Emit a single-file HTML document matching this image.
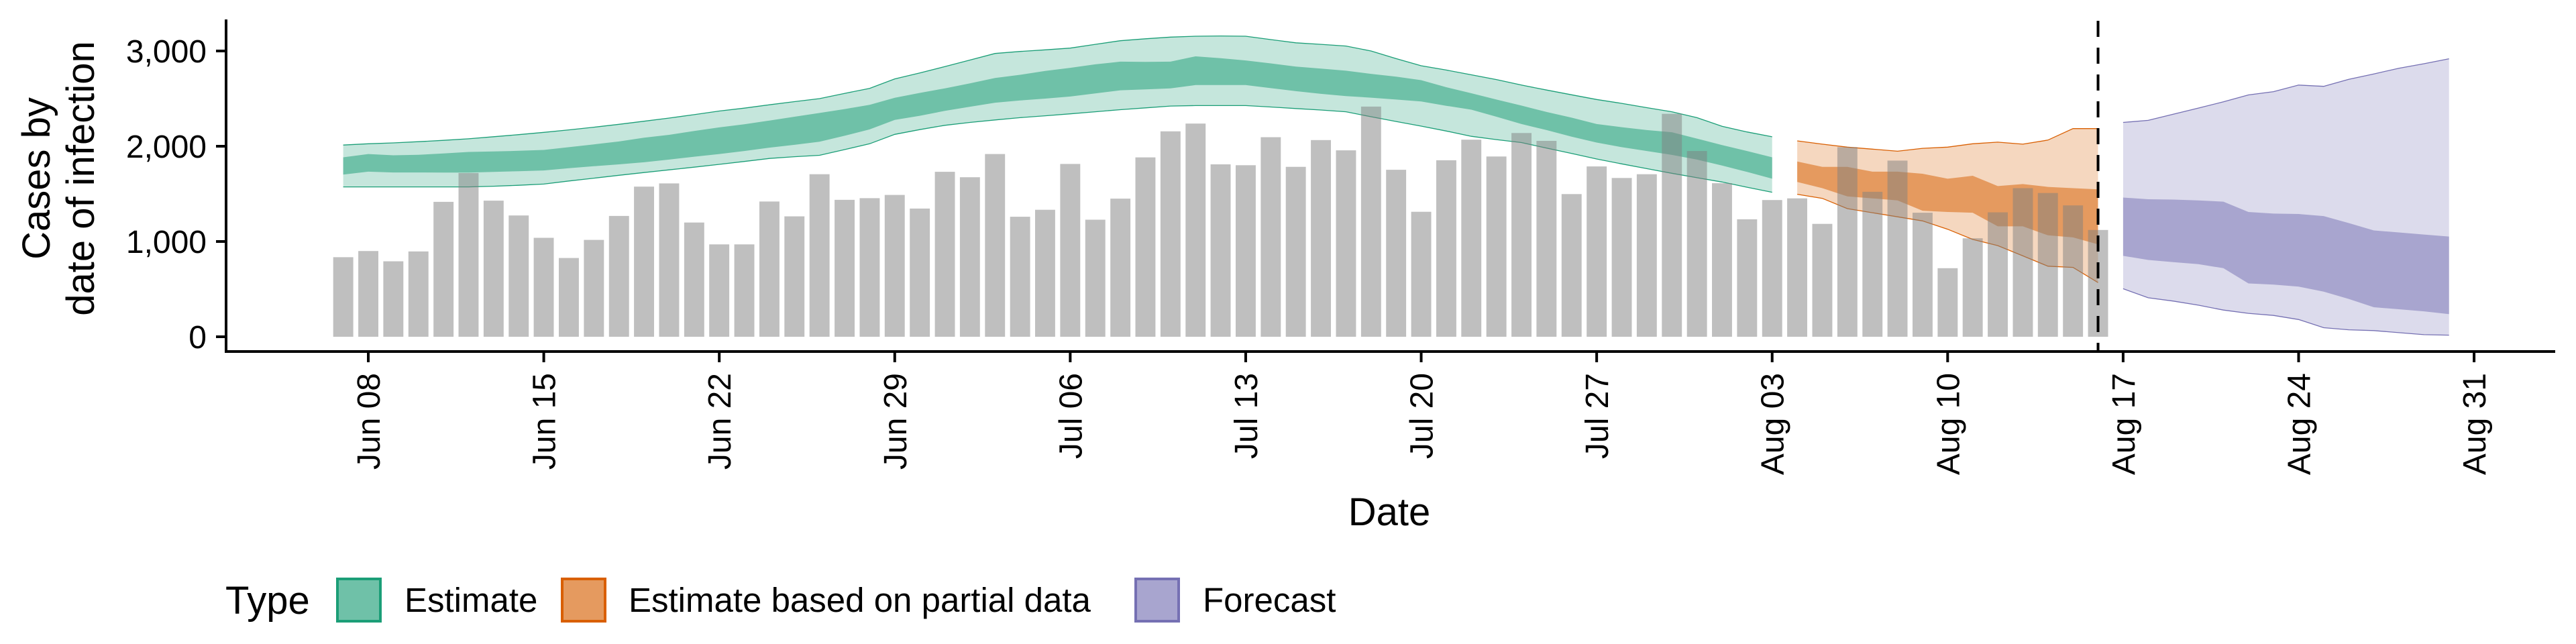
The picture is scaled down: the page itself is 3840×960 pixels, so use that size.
<!DOCTYPE html>
<html><head><meta charset="utf-8"><style>
html,body{margin:0;padding:0;background:#fff;}
svg{display:block;font-family:"Liberation Sans",sans-serif;}
</style></head><body>
<svg id="chart" width="3840" height="960" viewBox="0 0 3840 960" xmlns="http://www.w3.org/2000/svg">
<g id="ribbons"></g>
<g id="bars"></g>
<g id="axes"></g>
</svg>
<script>
// ---- data ----
const barStart = "2020-06-07";
const barValues = [835,900,792,896,1416,1719,1429,1273,1039,827,1017,1268,1576,1610,1199,970,970,1420,1264,1706,1437,1455,1489,1346,
1732,1675,1918,1260,1333,1814,1229,1450,1883,2156,2238,1810,1801,2095,1784,2065,1957,2416,1753,1312,1853,2069,1892,2139,2056,1498,1788,1667,1706,2340,1950,
1612,1233,1435,1453,1185,1991,1522,1849,1302,720,1034,1306,1560,1509,1379,1121];

const estStart = "2020-06-07";
const estU90 = [2013,2026,2035,2048,2062,2078,2100,2122,2146,2172,2200,2230,2263,2296,2332,2370,2400,2435,2468,2500,2555,2608,2707,2770,
2836,2905,2974,2995,3012,3030,3070,3108,3128,3146,3155,3158,3155,3120,3086,3070,3052,3000,2920,2845,2800,2750,2700,2642,2590,2540,2491,2450,2405,2362,2300,2210,2150,2099];
const estU50 = [1884,1918,1905,1910,1925,1940,1945,1952,1961,1990,2020,2050,2090,2120,2160,2198,2230,2270,2310,2349,2390,2435,2509,2560,
2608,2660,2716,2750,2790,2823,2860,2888,2885,2888,2944,2925,2901,2870,2836,2815,2793,2760,2730,2694,2620,2556,2490,2427,2360,2300,2233,2200,2170,2147,2080,2013,1950,1884];
const estL50 = [1703,1733,1725,1725,1724,1724,1730,1738,1746,1770,1790,1810,1832,1860,1890,1918,1950,1985,2015,2047,2110,2177,2276,2320,
2371,2415,2457,2480,2500,2522,2555,2587,2597,2607,2642,2642,2642,2610,2578,2550,2526,2510,2490,2470,2425,2384,2310,2233,2170,2100,2039,1990,1950,1909,1860,1797,1730,1659];
const estL90 = [1573,1573,1573,1573,1573,1573,1580,1590,1603,1635,1665,1695,1724,1752,1780,1810,1840,1872,1890,1905,1965,2026,2125,2175,
2220,2250,2276,2300,2320,2340,2362,2384,2403,2422,2427,2427,2427,2412,2396,2380,2362,2310,2260,2211,2160,2104,2070,2039,1980,1925,1866,1815,1765,1716,1670,1625,1570,1517];

const partStart = "2020-08-04";
const partU90 = [2056,2022,1991,1970,1948,1978,1991,2026,2043,2022,2065,2185,2185];
const partU50 = [1840,1784,1784,1733,1733,1711,1659,1690,1582,1603,1573,1560,1547];
const partL50 = [1625,1560,1474,1453,1431,1323,1310,1302,1159,1159,1065,1043,970];
const partL90 = [1496,1453,1345,1302,1259,1216,1129,1022,957,849,741,728,569];

const fcStart = "2020-08-17";
const fcU90 = [2250,2272,2336,2401,2466,2539,2573,2642,2629,2703,2759,2819,2866,2918];
const fcU50 = [1461,1444,1440,1431,1418,1310,1293,1289,1267,1194,1116,1095,1073,1052];
const fcL50 = [849,806,784,763,720,560,547,526,474,397,310,289,267,237];
const fcL90 = [504,409,375,332,280,246,224,181,95,73,65,43,22,17];

const yTicks = [0,1000,2000,3000];
const yTickLabels = ["0","1,000","2,000","3,000"];
const xTickDates = ["2020-06-08","2020-06-15","2020-06-22","2020-06-29","2020-07-06","2020-07-13","2020-07-20","2020-07-27","2020-08-03","2020-08-10","2020-08-17","2020-08-24","2020-08-31"];
const xTickLabels = ["Jun 08","Jun 15","Jun 22","Jun 29","Jul 06","Jul 13","Jul 20","Jul 27","Aug 03","Aug 10","Aug 17","Aug 24","Aug 31"];
const dataDate = "2020-08-16";

// ---- scales ----
const NS="http://www.w3.org/2000/svg";
const DAY=86400000;
const x0Date=Date.parse("2020-06-08"), x0=549, pxDay=37.37;
function xs(d){return x0+(Date.parse(d)-x0Date)/DAY*pxDay;}
function xi(start,i){return xs(start)+i*pxDay;}
const y0=502, pxUnit=142/1000;
function ys(v){return y0-v*pxUnit;}
function el(tag,attrs,parent){const e=document.createElementNS(NS,tag);for(const k in attrs)e.setAttribute(k,attrs[k]);parent.appendChild(e);return e;}

const rib=document.getElementById('ribbons');
function pts(start,arr){return arr.map((v,i)=>xi(start,i).toFixed(1)+","+ys(v).toFixed(1));}
function band(start,up,lo,fill){
  let p=pts(start,up);
  const l=pts(start,lo).reverse();
  return el('polygon',{points:p.concat(l).join(" "),fill:fill},rib);
}
function edge(start,arr,stroke){
  return el('polyline',{points:pts(start,arr).join(" "),fill:"none",stroke:stroke,"stroke-width":1.3},rib);
}
let b;
b=band(estStart,estU90,estL90,"#c5e6dc");


b=edge(estStart,estU90,"#1b9e77");


b=edge(estStart,estL90,"#1b9e77");


b=band(estStart,estU50,estL50,"#6fc1a8");


b=band(partStart,partU90,partL90,"#f5d7bf");


b=edge(partStart,partU90,"#d95f02");


b=edge(partStart,partL90,"#d95f02");


b=band(partStart,partU50,partL50,"#e59a5f");


b=band(fcStart,fcU90,fcL90,"#dcdbec");


b=edge(fcStart,fcU90,"#7570b3");


b=edge(fcStart,fcL90,"#7570b3");


b=band(fcStart,fcU50,fcL50,"#a8a5cf");



const bars=document.getElementById('bars');
const bw=pxDay*0.8;
barValues.forEach((v,i)=>{
  const cx=xi(barStart,i);
  const r=el('rect',{x:(cx-bw/2).toFixed(1),y:ys(v).toFixed(1),width:bw.toFixed(1),height:(y0-ys(v)).toFixed(1),fill:"#808080","fill-opacity":0.5},bars);
  
  
});

const ax=document.getElementById('axes');
const dl=el('line',{x1:xs(dataDate),x2:xs(dataDate),y1:31,y2:524,stroke:"#000","stroke-width":4,"stroke-dasharray":"24,16"},ax);


const ya=el('line',{x1:337,x2:337,y1:29,y2:526,stroke:"#000","stroke-width":4},ax);


const xa=el('line',{x1:335,x2:3809,y1:524,y2:524,stroke:"#000","stroke-width":4},ax);


yTicks.forEach((v,i)=>{
  const t=el('line',{x1:322,x2:337,y1:ys(v),y2:ys(v),stroke:"#000","stroke-width":4},ax);
  
  
  const tx=el('text',{x:308,y:ys(v)+17,"text-anchor":"end","font-size":48,fill:"#000"},ax);
  tx.textContent=yTickLabels[i];
  
  
});
xTickDates.forEach((d,i)=>{
  const x=xs(d);
  const t=el('line',{x1:x,x2:x,y1:524,y2:540,stroke:"#000","stroke-width":4},ax);
  
  
  const tx=el('text',{x:0,y:0,"text-anchor":"end","font-size":48,fill:"#000",transform:"translate("+(x+17)+",556) rotate(-90)"},ax);
  tx.textContent=xTickLabels[i];
  
  
});
</script>
<svg style="position:absolute;left:0;top:0" width="3840" height="960">
<g font-family="Liberation Sans, sans-serif" fill="#000">
<text transform="translate(74,266) rotate(-90)" text-anchor="middle" font-size="58">Cases by</text>
<text transform="translate(140,266) rotate(-90)" text-anchor="middle" font-size="58">date of infection</text>
<text x="2071" y="783" text-anchor="middle" font-size="58">Date</text>
<g>
<text x="336" y="915" font-size="58">Type</text>
<rect x="503" y="863" width="64" height="63" fill="#6fc1a8" stroke="#1b9e77" stroke-width="4"/>
<text x="603" y="912" font-size="51">Estimate</text>
<rect x="838" y="863" width="64" height="63" fill="#e59a5f" stroke="#d95f02" stroke-width="4"/>
<text x="937" y="912" font-size="51">Estimate based on partial data</text>
<rect x="1693" y="863" width="64" height="63" fill="#a8a5cf" stroke="#7570b3" stroke-width="4"/>
<text x="1793" y="912" font-size="51">Forecast</text>
</g>
</g>
</svg>
</body></html>
